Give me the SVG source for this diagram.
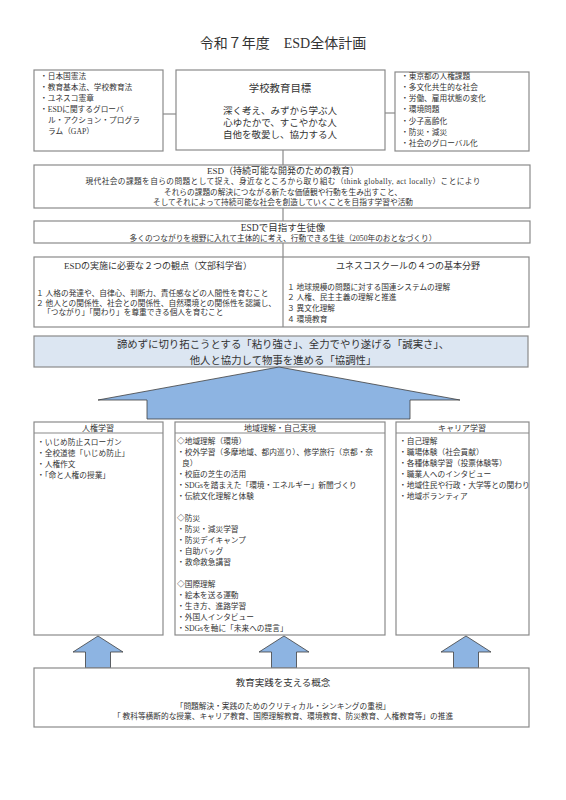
<svg xmlns="http://www.w3.org/2000/svg" width="566" height="800" viewBox="0 0 566 800">
<defs>
<style>
.t{font-family:'Liberation Serif','Noto Sans CJK JP',serif;fill:#333}
.c{text-anchor:middle}
.f7{font-size:7.7px}
.f8{font-size:8px}
.f9{font-size:9px}
.f95{font-size:9.5px}
.f10{font-size:10.4px}
.f14{font-size:14px}
.box{fill:#fff;stroke:#8a8a8a;stroke-width:1.2}
.ln{stroke:#8a8a8a;stroke-width:1.2;fill:none}
.arr{fill:#8db4e2;stroke:#3f3f3f;stroke-width:0.8}
</style>
</defs>
<rect width="566" height="800" fill="#fff"/>
<text class="t c f14" x="283" y="48">令和７年度　ESD全体計画</text>

<g id="connectors">
<line class="ln" x1="163" y1="114" x2="176" y2="114"/>
<line class="ln" x1="385" y1="113" x2="395" y2="113"/>
<line class="ln" x1="283" y1="150" x2="283" y2="165"/>
<line class="ln" x1="283" y1="208" x2="283" y2="221"/>
<line class="ln" x1="283" y1="243" x2="283" y2="257"/>
</g>

<g id="laws">
<rect class="box" x="34" y="70" width="129" height="81"/>
<text class="t f7" x="40" y="79">・日本国憲法</text>
<text class="t f7" x="40" y="90">・教育基本法、学校教育法</text>
<text class="t f7" x="40" y="101">・ユネスコ憲章</text>
<text class="t f7" x="40" y="112">・ESDに関するグローバ</text>
<text class="t f7" x="48" y="123">ル・アクション・プログラ</text>
<text class="t f7" x="48" y="134">ラム（GAP）</text>
</g>

<g id="goals">
<rect class="box" x="176" y="70" width="209" height="80"/>
<text class="t c f10" x="280" y="92">学校教育目標</text>
<text class="t c f95" x="280" y="114">深く考え、みずから学ぶ人</text>
<text class="t c f95" x="280" y="126">心ゆたかで、すこやかな人</text>
<text class="t c f95" x="280" y="138">自他を敬愛し、協力する人</text>
</g>

<g id="issues">
<rect class="box" x="395" y="72" width="134" height="79"/>
<text class="t f7" x="401" y="79">・東京都の人権課題</text>
<text class="t f7" x="401" y="90">・多文化共生的な社会</text>
<text class="t f7" x="401" y="101">・労働、雇用状態の変化</text>
<text class="t f7" x="401" y="112">・環境問題</text>
<text class="t f7" x="401" y="124">・少子高齢化</text>
<text class="t f7" x="401" y="135">・防災・減災</text>
<text class="t f7" x="401" y="146">・社会のグローバル化</text>
</g>

<g id="esd">
<rect class="box" x="34" y="165" width="496" height="43"/>
<text class="t c f9" x="283" y="174">ESD（持続可能な開発のための教育）</text>
<text class="t c f7" x="283" y="184" textLength="395" lengthAdjust="spacing">現代社会の課題を自らの問題として捉え、身近なところから取り組む（think globally, act locally）ことにより</text>
<text class="t c f7" x="283" y="195">それらの課題の解決につながる新たな価値観や行動を生み出すこと、</text>
<text class="t c f7" x="283" y="205">そしてそれによって持続可能な社会を創造していくことを目指す学習や活動</text>
</g>

<g id="student">
<rect class="box" x="34" y="221" width="496" height="22"/>
<text class="t c f95" x="283" y="231">ESDで目指す生徒像</text>
<text class="t c f7" x="283" y="241">多くのつながりを視野に入れて主体的に考え、行動できる生徒（2050年のおとなづくり）</text>
</g>

<g id="viewpoints">
<rect class="box" x="34" y="257" width="495" height="70"/>
<line class="ln" x1="283" y1="257" x2="283" y2="327"/>
<text class="t c f9" x="158" y="269">ESDの実施に必要な２つの観点（文部科学省）</text>
<text class="t f7" x="36" y="296">１ 人格の発達や、自律心、判断力、責任感などの人間性を育むこと</text>
<text class="t f7" x="36" y="306">２ 他人との関係性、社会との関係性、自然環境との関係性を認識し、</text>
<text class="t f7" x="43" y="315">「つながり」「関わり」を尊重できる個人を育むこと</text>
<text class="t c f9" x="408" y="269">ユネスコスクールの４つの基本分野</text>
<text class="t f7" x="287" y="290">１ 地球規模の問題に対する国連システムの理解</text>
<text class="t f7" x="287" y="300">２ 人権、民主主義の理解と推進</text>
<text class="t f7" x="287" y="311">３ 異文化理解</text>
<text class="t f7" x="287" y="322">４ 環境教育</text>
</g>

<g id="banner">
<rect x="34" y="336" width="494" height="31" fill="#dce6f2" stroke="#8a8a8a" stroke-width="1.2"/>
<text class="t c f10" x="283" y="348">諦めずに切り拓こうとする「粘り強さ」、全力でやり遂げる「誠実さ」、</text>
<text class="t c f10" x="283" y="364">他人と協力して物事を進める「協調性」</text>
</g>

<g id="big-arrow">
<polygon class="arr" points="279,367 460,400 410,400 410,419 147,419 147,400 98,400"/>
</g>

<g id="human-rights">
<rect class="box" x="34" y="422" width="129" height="213"/>
<line class="ln" x1="34" y1="433" x2="163" y2="433"/>
<text class="t c f8" x="98" y="431">人権学習</text>
<text class="t f7" x="37" y="445">・いじめ防止スローガン</text>
<text class="t f7" x="37" y="456">・全校道徳「いじめ防止」</text>
<text class="t f7" x="37" y="467">・人権作文</text>
<text class="t f7" x="37" y="478">・「命と人権の授業」</text>
</g>

<g id="community">
<rect class="box" x="175" y="422" width="210" height="213"/>
<line class="ln" x1="175" y1="433" x2="385" y2="433"/>
<text class="t c f8" x="280" y="431">地域理解・自己実現</text>
<text class="t f7" x="177" y="444">◇地域理解（環境）</text>
<text class="t f7" x="177" y="455">・校外学習（多摩地域、都内巡り）、修学旅行（京都・奈</text>
<text class="t f7" x="182" y="466">良）</text>
<text class="t f7" x="177" y="477">・校庭の芝生の活用</text>
<text class="t f7" x="177" y="488">・SDGsを踏まえた「環境・エネルギー」新聞づくり</text>
<text class="t f7" x="177" y="499">・伝統文化理解と体験</text>
<text class="t f7" x="177" y="521">◇防災</text>
<text class="t f7" x="177" y="532">・防災・減災学習</text>
<text class="t f7" x="177" y="543">・防災デイキャンプ</text>
<text class="t f7" x="177" y="554">・自助バッグ</text>
<text class="t f7" x="177" y="565">・救命救急講習</text>
<text class="t f7" x="177" y="587">◇国際理解</text>
<text class="t f7" x="177" y="598">・絵本を送る運動</text>
<text class="t f7" x="177" y="609">・生き方、進路学習</text>
<text class="t f7" x="177" y="620">・外国人インタビュー</text>
<text class="t f7" x="177" y="631">・SDGsを軸に「未来への提言」</text>
</g>

<g id="career">
<rect class="box" x="396" y="422" width="133" height="213"/>
<line class="ln" x1="396" y1="433" x2="529" y2="433"/>
<text class="t c f8" x="462" y="431">キャリア学習</text>
<text class="t f7" x="399" y="444">・自己理解</text>
<text class="t f7" x="399" y="455">・職場体験（社会貢献）</text>
<text class="t f7" x="399" y="466">・各種体験学習（投票体験等）</text>
<text class="t f7" x="399" y="477">・職業人へのインタビュー</text>
<text class="t f7" x="399" y="488">・地域住民や行政・大学等との関わり</text>
<text class="t f7" x="399" y="499">・地域ボランティア</text>
</g>

<g id="small-arrows">
<polygon class="arr" points="98,636 123,652 110.5,652 110.5,668 85.5,668 85.5,652 73,652"/>
<polygon class="arr" points="284,636 309,652 296.5,652 296.5,668 271.5,668 271.5,652 259,652"/>
<polygon class="arr" points="466,636 491,652 478.5,652 478.5,668 453.5,668 453.5,652 441,652"/>
</g>

<g id="concepts">
<rect class="box" x="34" y="668" width="495" height="59"/>
<text class="t c f95" x="283" y="686">教育実践を支える概念</text>
<text class="t c f7" x="283" y="709">「問題解決・実践のためのクリティカル・シンキングの重視」</text>
<text class="t c f7" x="283" y="719">「 教科等横断的な授業、キャリア教育、国際理解教育、環境教育、防災教育、人権教育等」の推進</text>
</g>
</svg>
